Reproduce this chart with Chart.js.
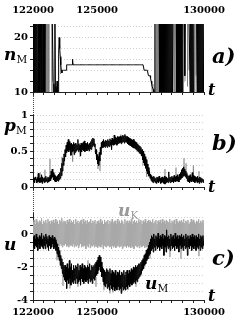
<!DOCTYPE html>
<html><head><meta charset="utf-8">
<script src="https://cdn.jsdelivr.net/npm/chart.js@4.4.1/dist/chart.umd.min.js"></script>
<style>
body{margin:0;width:241px;height:323px;background:#fff;position:relative;overflow:hidden;font-family:"DejaVu Serif",serif}
canvas{position:absolute;left:0}
.lab{position:absolute;font-weight:bold;font-style:italic;line-height:1;white-space:nowrap;color:#000}
.lab sub{font-style:normal;font-weight:normal;font-size:0.62em;vertical-align:baseline;position:relative;top:0.28em}
.dot{position:absolute;left:33px;width:0;border-left:1px dotted #444}
</style></head><body>
<canvas id="ca" width="241" height="100" style="top:0px"></canvas>
<canvas id="cb" width="241" height="95" style="top:100px"></canvas>
<canvas id="cc" width="241" height="128" style="top:195px"></canvas>
<div class="dot" style="top:95px;height:20px"></div>
<div class="dot" style="top:190px;height:23px"></div>
<div class="lab" style="left:4px;top:46px;font-size:17px">n<sub>M</sub></div>
<div class="lab" style="left:212px;top:45px;font-size:21px">a)</div>
<div class="lab" style="left:208px;top:82px;font-size:16px">t</div>
<div class="lab" style="left:4px;top:117px;font-size:17px">p<sub>M</sub></div>
<div class="lab" style="left:212px;top:132px;font-size:21px">b)</div>
<div class="lab" style="left:208px;top:179px;font-size:16px">t</div>
<div class="lab" style="left:4px;top:236px;font-size:17px">u</div>
<div class="lab" style="left:212px;top:247px;font-size:21px">c)</div>
<div class="lab" style="left:118px;top:202px;font-size:17px;color:#999">u<sub>K</sub></div>
<div class="lab" style="left:145px;top:275px;font-size:17px">u<sub>M</sub></div>
<div class="lab" style="left:208px;top:288px;font-size:16px">t</div>
<script>
const T_MIN = 122000, T_MAX = 130000, DT = 25;
const xTickLabels = [122000, 125000, 130000];
const tTicks = [122000,122500,123000,123500,124000,124500,125000,125500,126000,126500,127000,127500,128000,128500,129000,129500,130000];
const nTickVals = [10,12,14,16,18,20,22], nTickLabels = [10,20];
const pTickVals = [0,0.1,0.2,0.3,0.4,0.5,0.6,0.7,0.8,0.9,1], pTickLabels = [0,0.5,1];
const uTickVals = [-4,-3.5,-3,-2.5,-2,-1.5,-1,-0.5,0,0.5,1], uTickLabels = [-4,-2,0];

// panel a: n_M, sampled every DT from T_MIN
const nM = [
10,24,10,24,10,24,10,24,10,24,24,10,24,10,24,10,24,10,24,24,10,24,10,
24,24,24,24,24,24,24,24,24,24,24,24,24,24,24,
10,11.5,10,24,10,11,10,12,10,
10,
17,20,18,16.5,15,14,13.5,14,
14,14,14,14,14,14,14,
15,15,15,15,15,15,15,15,15,15,15,
16,
15,15,15,15,15,15,15,15,15,15,15,15,15,15,15,15,15,15,15,
15,15,15,15,15,15,15,15,15,15,15,15,15,15,15,15,15,15,15,
15,15,15,15,15,15,15,15,15,15,15,15,15,15,15,15,15,15,15,
15,15,15,15,15,15,15,15,15,15,15,15,15,15,15,15,15,15,15,
15,15,15,15,15,15,15,15,15,15,15,15,15,15,15,15,15,15,15,
15,15,15,15,15,15,15,15,15,15,15,15,15,15,15,15,15,15,15,
15,15,15,15,15,15,15,15,15,15,15,15,15,15,15,15,15,15,15,
14,14,14,14,14,14,14,14,
13,13,13,13,
12.5,12,11.5,11,11,10.5,10,10,
24,24,24,24,24,24,24,24,24,
10,24,10,24,10,24,10,24,10,24,10,24,10,24,10,24,10,24,10,24,10,24,10,24,10,24,
24,24,24,24,24,24,
10,24,10,24,10,24,10,24,10,24,10,
24,24,24,24,13,24,24,24,24,24,24,24,24,24,
10,24,10,24,10,24,10,24,
24,24,24,24,24,
10,24,10,24,10,24,10,24,10,24,10,24,10,24
];
const nGrayT = [122243,122470,122571,122594,122618,122641,122669,122697,122725,122753,122880,122917,123290,127567,127614,127730,127777,127824,127871,127908,128587,128619,128652,128685,128718,129031,129110,129227,129298,129578,129625];
const nGrayLo = [10,10,10,10,10,10,10,10,10,10,10,12,13.3,10,10,10,10,10,10,10,10,10,10,10,10,10,12,11,14,10,13];
const nGrayHi = [24,24,24,24,24,24,24,24,24,24,24,24,16,12,11.5,24,24,24,24,24,24,24,24,24,24,24,24,24,24,24,24];

// panel b: p_M
const pM = [
0.13,0.07,0.12,0.06,0.14,0.1,0.11,0.06,0.13,0.07,0.19,0.08,0.12,0.06,0.13,0.07,0.17,0.05,0.14,0.08,
0.12,0.06,0.13,0.07,0.15,0.08,0.12,0.06,0.14,0.07,0.13,0.08,0.16,0.09,0.22,0.12,0.25,0.14,0.2,0.1,
0.17,0.08,0.15,0.07,0.14,0.09,0.16,0.08,0.18,0.1,0.2,0.12,0.26,0.16,0.33,0.22,0.4,0.3,0.46,0.36,
0.52,0.42,0.58,0.48,0.62,0.5,0.66,0.49,0.63,0.52,0.6,0.44,0.61,0.49,0.59,0.5,0.62,0.45,0.6,0.48,
0.61,0.5,0.59,0.52,0.66,0.49,0.6,0.51,0.58,0.43,0.61,0.49,0.6,0.52,0.62,0.5,0.64,0.49,0.61,0.51,
0.6,0.5,0.62,0.52,0.59,0.5,0.61,0.53,0.63,0.52,0.66,0.56,0.68,0.58,0.67,0.56,0.6,0.46,0.52,0.38,
0.45,0.32,0.42,0.3,0.48,0.36,0.55,0.45,0.62,0.54,0.64,0.55,0.66,0.56,0.63,0.55,0.65,0.57,0.64,0.55,
0.66,0.57,0.64,0.56,0.67,0.58,0.65,0.52,0.68,0.59,0.66,0.58,0.72,0.59,0.69,0.6,0.68,0.58,0.7,0.6,
0.69,0.61,0.7,0.62,0.71,0.6,0.7,0.62,0.72,0.63,0.71,0.61,0.73,0.63,0.71,0.62,0.7,0.6,0.69,0.59,
0.68,0.58,0.67,0.57,0.66,0.56,0.65,0.55,0.66,0.54,0.64,0.53,0.63,0.52,0.62,0.5,0.6,0.49,0.58,0.47,
0.57,0.46,0.55,0.43,0.52,0.38,0.5,0.34,0.46,0.3,0.42,0.26,0.38,0.22,0.32,0.18,0.27,0.15,0.22,0.12,
0.18,0.09,0.16,0.07,0.14,0.06,0.15,0.08,0.13,0.06,0.12,0.05,0.14,0.07,0.13,0.06,0.15,0.08,0.12,0.05,
0.13,0.06,0.14,0.07,0.12,0.05,0.15,0.04,0.13,0.06,0.14,0.07,0.12,0.06,0.21,0.08,0.13,0.06,0.14,0.07,
0.15,0.07,0.13,0.06,0.16,0.08,0.14,0.07,0.15,0.09,0.17,0.08,0.14,0.07,0.18,0.1,0.2,0.12,0.24,0.13,
0.26,0.15,0.28,0.16,0.25,0.14,0.22,0.12,0.19,0.08,0.16,0.07,0.15,0.06,0.17,0.08,0.14,0.07,0.2,0.09,
0.16,0.07,0.15,0.06,0.14,0.08,0.13,0.06,0.15,0.07,0.12,0.05,0.14,0.07,0.13,0.06,0.12,0.08,0.11,0.06,0.1
];
const pGrayT = [122235,122330,122560,122795,123357,123857,124200,125040,125135,126115,127145,127320,128175,128690,129065,129160,129500,129765];
const pGrayLo = [0.05,0.07,0.08,0.1,0.15,0.35,0.42,0.25,0.22,0.62,0.3,0.14,0.1,0.1,0.15,0.15,0.1,0.1];
const pGrayHi = [0.18,0.2,0.24,0.39,0.42,0.55,0.5,0.45,0.4,0.73,0.45,0.35,0.25,0.27,0.4,0.33,0.3,0.22];

// panel c: u_K (gray) and u_M (black)
const uK = [
0.7,-0.6,0.85,-0.75,0.6,-0.7,0.9,-0.65,0.75,-0.8,0.65,-0.7,0.8,-0.6,0.7,-0.75,0.95,-0.7,0.6,-0.65,
0.8,-0.7,0.7,-0.8,0.85,-0.6,0.65,-0.75,0.9,-0.7,0.75,-0.65,0.6,-0.8,0.8,-0.7,0.7,-0.6,0.85,-0.75,
0.65,-0.7,0.9,-0.65,0.7,-0.8,0.8,-0.7,0.6,-0.75,0.85,-0.6,0.75,-0.7,0.95,-0.8,0.7,-0.65,0.8,-0.7,
0.75,-0.6,0.6,-0.75,0.85,-0.7,0.7,-0.8,0.9,-0.65,0.65,-0.7,0.8,-0.75,0.7,-0.6,0.85,-0.8,0.6,-0.7,
0.9,-0.75,0.7,-0.65,0.8,-0.85,0.65,-0.7,0.75,-0.6,0.85,-0.8,0.6,-0.7,0.9,-0.75,0.7,-0.65,0.8,-0.9,
0.6,-0.7,0.85,-0.8,0.7,-0.6,0.75,-0.85,0.9,-0.7,0.65,-0.75,0.8,-0.65,0.7,-0.8,0.85,-0.7,0.6,-0.75,
0.75,-0.85,0.8,-0.7,0.65,-0.75,0.9,-0.8,0.7,-0.65,0.8,-0.9,0.6,-0.7,0.85,-0.75,0.7,-0.8,0.75,-0.7,
0.85,-0.7,0.6,-0.8,0.8,-0.75,0.7,-0.9,0.9,-0.7,0.65,-0.8,0.75,-0.7,0.8,-0.85,0.6,-0.75,0.9,-0.7,
0.7,-0.8,0.8,-0.75,0.65,-0.7,0.85,-0.9,0.75,-0.8,0.6,-0.7,0.9,-0.75,0.7,-0.85,0.8,-0.7,0.65,-0.8,
0.8,-0.75,0.7,-0.85,0.9,-0.7,0.6,-0.8,0.75,-0.9,0.85,-0.7,0.7,-0.75,0.8,-0.8,0.65,-0.7,0.9,-0.85,
0.75,-0.7,0.85,-0.8,0.6,-0.75,0.8,-0.7,0.7,-0.85,0.9,-0.75,0.65,-0.8,0.75,-0.7,0.85,-0.9,0.7,-0.75,
0.8,-0.65,0.7,-0.75,0.9,-0.7,0.65,-0.8,0.75,-0.6,0.85,-0.75,0.6,-0.7,0.8,-0.65,0.7,-0.8,0.85,-0.7,
0.65,-0.75,0.9,-0.6,0.7,-0.7,0.8,-0.75,0.6,-0.65,0.85,-0.8,0.75,-0.6,0.7,-0.75,0.9,-0.7,0.65,-0.6,
0.8,-0.7,0.7,-0.65,0.85,-0.75,0.6,-0.7,0.9,-0.6,0.75,-0.8,0.65,-0.7,0.8,-0.75,0.7,-0.6,0.85,-0.7,
0.7,-0.75,0.9,-0.65,0.65,-0.7,0.8,-0.8,0.75,-0.6,0.85,-0.7,0.6,-0.75,0.7,-0.65,0.9,-0.7,0.75,-0.8,
0.85,-0.65,0.7,-0.7,0.6,-0.75,0.8,-0.6,0.75,-0.7,0.9,-0.8,0.65,-0.7,0.8,-0.75,0.7,-0.65,0.85,-0.7,
0.75
];
const uM = [
-0.2,-0.8,-0.1,-0.9,-0.3,-0.7,0.0,-0.8,-0.2,-1.0,-0.3,-0.6,-0.1,-0.9,-0.2,-0.7,0.05,-0.8,-0.3,-0.9,
-0.1,-0.7,-0.2,-0.9,0.0,-0.6,-0.15,-0.8,-0.3,-1.0,-0.1,-0.7,-0.2,-0.9,-0.25,-0.8,-0.1,-0.6,-0.3,-0.9,
-0.2,-0.8,-0.35,-1.0,-0.5,-1.2,-0.6,-1.4,-0.8,-1.6,-1.0,-1.9,-1.3,-2.1,-1.5,-2.4,-1.7,-2.6,-1.9,-2.8,
-1.9,-2.9,-2.0,-3.3,-1.8,-2.8,-2.1,-3.0,-1.6,-2.7,-2.0,-3.1,-1.8,-2.9,-2.2,-3.0,-1.9,-2.8,-2.1,-3.0,
-1.9,-2.7,-2.0,-3.0,-1.8,-2.9,-2.2,-2.8,-1.9,-3.1,-2.0,-2.7,-1.8,-2.9,-2.1,-3.0,-1.9,-2.8,-2.0,-2.9,
-2.1,-2.8,-1.9,-3.0,-2.0,-2.7,-1.8,-2.9,-2.2,-2.8,-1.9,-3.0,-2.0,-2.7,-1.9,-2.8,-1.8,-2.6,-1.7,-2.5,
-1.6,-2.4,-1.4,-2.2,-1.3,-2.0,-1.4,-2.3,-1.7,-2.6,-2.0,-2.9,-2.1,-3.1,-2.2,-3.2,-2.3,-3.0,-2.1,-3.3,
-2.2,-3.2,-2.3,-3.4,-2.1,-3.1,-2.4,-3.3,-2.2,-3.4,-2.3,-3.2,-2.4,-3.45,-2.2,-3.3,-2.5,-3.4,-2.3,-3.2,
-2.4,-3.4,-2.2,-3.3,-2.5,-3.6,-2.3,-3.2,-2.4,-3.4,-2.2,-3.3,-2.5,-3.4,-2.3,-3.2,-2.2,-3.3,-2.4,-3.1,
-2.2,-3.2,-2.3,-3.0,-2.1,-3.1,-2.2,-3.0,-2.0,-2.9,-2.1,-3.0,-1.9,-2.8,-2.0,-2.9,-1.9,-2.7,-1.8,-2.6,
-1.8,-2.5,-1.7,-2.4,-1.6,-2.2,-1.5,-2.1,-1.3,-1.9,-1.2,-1.8,-1.0,-1.6,-0.9,-1.5,-0.7,-1.3,-0.5,-1.2,
-0.3,-1.0,-0.1,-0.9,-0.2,-1.1,0.0,-0.8,-0.3,-1.0,-0.1,-0.7,-0.2,-0.9,0.05,-0.8,-0.3,-1.0,-0.1,-0.8,
-0.2,-0.9,0.0,-0.7,-0.3,-1.3,-0.1,-0.8,-0.2,-1.1,0.25,-0.7,-0.2,-0.9,-0.1,-0.8,-0.3,-1.0,0.0,-0.7,
-0.2,-0.9,-0.1,-0.8,-0.3,-1.0,0.05,-0.7,-0.2,-0.9,-0.1,-0.8,-0.3,-1.1,-0.1,-0.7,-0.2,-0.9,0.0,-0.8,
-0.2,-1.0,-0.1,-0.7,-0.3,-0.9,0.0,-0.8,-0.2,-1.3,-0.1,-0.8,-0.3,-0.9,-0.1,-0.7,-0.2,-1.0,0.0,-0.8,
-0.2,-0.9,-0.1,-0.7,-0.3,-1.0,-0.1,-0.8,-0.2,-0.9,0.0,-0.7,-0.3,-1.0,-0.1,-0.8,-0.2,-0.9,-0.1,-0.7,-0.4
];
const uGrayT = [123123,123403,123730,124105,124573,124947,125321,125602,125742,126163,126444,126818,127473,128409,128923,129765];
const uGrayLo = [-1.6,-3.15,-3.3,-3.2,-2.2,-3.2,-3.4,-3.6,-3.55,-3.5,-3.4,-3.2,-1.5,-1.4,-1.5,-1.35];
const uGrayHi = [-1.0,-2.4,-2.6,-2.5,-1.6,-2.6,-2.6,-3.0,-3.0,-3.0,-3.0,-2.6,-0.8,-0.8,-0.8,-0.8];

// ---------- building ----------
const series = vals => vals.map((v, i) => ({x: T_MIN + i * DT, y: v}));
function spikes(t, lo, hi) {
  const d = [];
  t.forEach((tt, k) => { d.push({x: tt, y: lo[k]}, {x: tt, y: hi[k]}, {x: tt, y: null}); });
  return d;
}
const tickFont = {family: 'DejaVu Serif', weight: 'bold', size: 10};
const fmt = v => String(v);

function line(data, color, order) {
  return {data, borderColor: color, borderWidth: 1, pointRadius: 0, fill: false,
          tension: 0, spanGaps: false, order};
}
function xAxis(pos, h, showLabels, drawTicks, showBorder, pad) {
  return {
    type: 'linear', position: pos, min: T_MIN, max: T_MAX,
    afterBuildTicks: s => { s.ticks = tTicks.map(v => ({value: v})); },
    afterFit: s => { s.height = h; s.paddingLeft = 0; s.paddingRight = 0; },
    ticks: {autoSkip: false, maxRotation: 0, minRotation: 0, padding: pad, color: '#000', font: tickFont,
            callback: v => (showLabels && xTickLabels.includes(v)) ? fmt(v) : ''},
    grid: {drawOnChartArea: false, drawTicks: drawTicks, tickLength: 3, tickColor: '#222'},
    border: {display: showBorder, color: '#222', width: 1}
  };
}
function yAxis(min, max, vals, labels) {
  return {
    type: 'linear', position: 'left', min, max,
    afterBuildTicks: s => { s.ticks = vals.map(v => ({value: v})); },
    afterFit: s => { s.width = 33; },
    ticks: {autoSkip: false, padding: 2, color: '#000', font: tickFont,
            callback: v => labels.includes(v) ? fmt(v) : ''},
    grid: {color: '#cfcfcf', lineWidth: 1, tickColor: '#222', tickLength: 3},
    border: {display: true, color: '#222', width: 1, dash: [1, 2]}
  };
}
function make(id, datasets, scales, padTop) {
  return new Chart(document.getElementById(id), {
    type: 'line',
    data: {datasets},
    options: {
      responsive: false, animation: false, events: [],
      layout: {padding: {top: padTop, right: 37, bottom: 0, left: 0}},
      plugins: {legend: {display: false}, tooltip: {enabled: false}},
      scales
    }
  });
}

make('ca', [
  line(series(nM), '#000', 0),
  line(spikes(nGrayT, nGrayLo, nGrayHi), '#808080', 1)
], {
  x: xAxis('bottom', 5, false, true, true, 3),
  xTop: xAxis('top', 24, true, false, false, 8),
  y: yAxis(10, 22.5, nTickVals, nTickLabels)
}, 0);

make('cb', [
  line(series(pM), '#000', 0),
  line(spikes(pGrayT, pGrayLo, pGrayHi), '#777', 1)
], {
  x: xAxis('bottom', 5, false, true, true, 3),
  y: yAxis(0, 1, pTickVals, pTickLabels)
}, 15);

make('cc', [
  line(series(uM), '#000', 0),
  line(spikes(uGrayT, uGrayLo, uGrayHi), '#777', 1),
  line(series(uK), '#a9a9a9', 2)
], {
  x: xAxis('bottom', 23, true, true, true, 3),
  y: yAxis(-4, 1.3, uTickVals, uTickLabels)
}, 17.5);
</script>
</body></html>
